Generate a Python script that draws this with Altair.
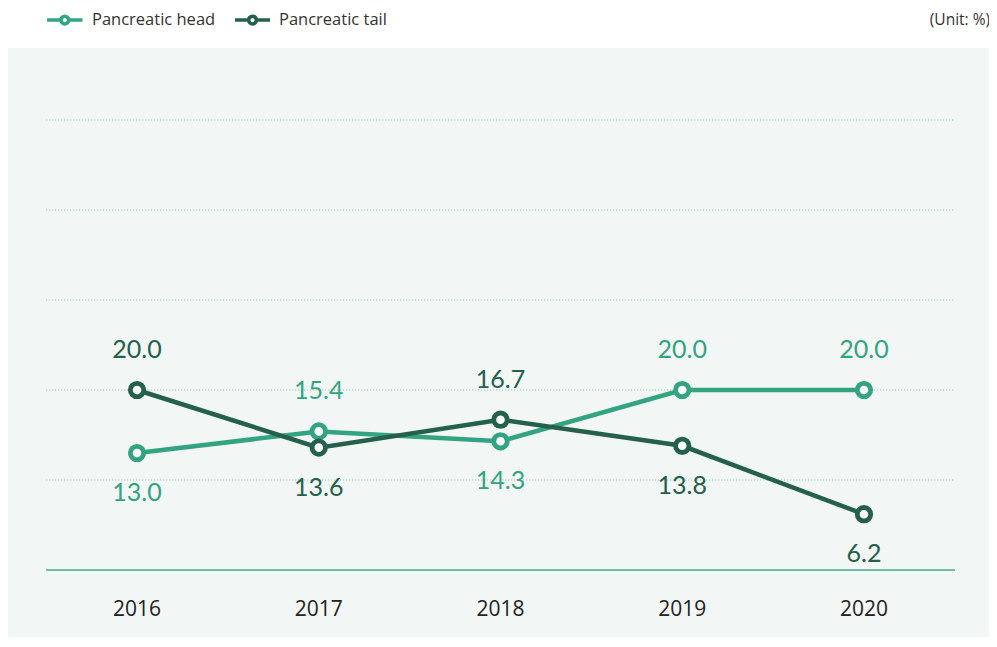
import altair as alt
import pandas as pd

years = [2016, 2017, 2018, 2019, 2020]
head = [13.0, 15.4, 14.3, 20.0, 20.0]
tail = [20.0, 13.6, 16.7, 13.8, 6.2]
series_names = ["Pancreatic head", "Pancreatic tail"]
series_colors = ["#33a481", "#24604b"]
grid_values = [10, 20, 30, 40, 50]
unit_text = "(Unit: %)"

# legend layout (in axis units, placed above the plotting range)
legend_line_start = [2015.505, 2016.539]
legend_line_end = [2015.700, 2016.732]
legend_text_x = [2015.752, 2016.781]
legend_y = 61.1

rows = []
for i, y in enumerate(years):
    h, t = head[i], tail[i]
    rows.append({"year": y, "series": series_names[0], "value": h, "pos": "above" if h > t else "below"})
    rows.append({"year": y, "series": series_names[1], "value": t, "pos": "above" if t >= h else "below"})
df = pd.DataFrame(rows)
df["label"] = df["value"].map(lambda v: f"{v:.1f}")

grid_df = pd.DataFrame({"v": grid_values, "x1": 2015.5, "x2": 2020.5})
base_df = pd.DataFrame({"v": [0], "x1": [2015.5], "x2": [2020.5]})
year_df = pd.DataFrame({"year": years, "yl": -4.44, "label": [str(y) for y in years]})
leg_df = pd.DataFrame({
    "series": series_names,
    "x1": legend_line_start, "x2": legend_line_end,
    "xc": [(a + b) / 2 for a, b in zip(legend_line_start, legend_line_end)],
    "xt": legend_text_x, "y": legend_y,
})
unit_df = pd.DataFrame({"x": [2020.694], "y": [legend_y], "t": [unit_text]})

xs = alt.Scale(domain=[2015.29, 2020.688], nice=False, zero=False)
ys = alt.Scale(domain=[-7.444, 58], nice=False, zero=False)
cs = alt.Scale(domain=series_names, range=series_colors)

X = lambda f: alt.X(f, scale=xs, axis=None)
Y = lambda f: alt.Y(f, scale=ys, axis=None)
C = alt.Color("series:N", scale=cs, legend=None)

grid = alt.Chart(grid_df).mark_rule(color="#86c9b2", strokeWidth=1, strokeDash=[1, 2]).encode(
    x=X("x1:Q"), x2="x2:Q", y=Y("v:Q")
)
baseline = alt.Chart(base_df).mark_rule(color="#3aab8b", strokeWidth=1.5).encode(
    x=X("x1:Q"), x2="x2:Q", y=Y("v:Q")
)
line = alt.Chart(df).mark_line(strokeWidth=4.5).encode(x=X("year:Q"), y=Y("value:Q"), color=C)
pts = alt.Chart(df).mark_point(filled=False, fill="white", fillOpacity=1, size=180, strokeWidth=4.8,
                               opacity=1, shape="circle").encode(x=X("year:Q"), y=Y("value:Q"), color=C)
lab_above = alt.Chart(df).transform_filter(alt.datum.pos == "above").mark_text(
    font="Lato", fontSize=25, dy=-40, baseline="middle"
).encode(x=X("year:Q"), y=Y("value:Q"), text="label:N", color=C)
lab_below = alt.Chart(df).transform_filter(alt.datum.pos == "below").mark_text(
    font="Lato", fontSize=25, dy=40, baseline="middle"
).encode(x=X("year:Q"), y=Y("value:Q"), text="label:N", color=C)
year_labels = alt.Chart(year_df).mark_text(font="Open Sans", fontSize=21, color="#222222", baseline="middle").encode(
    x=X("year:Q"), y=Y("yl:Q"), text="label:N"
)

leg_line = alt.Chart(leg_df).mark_rule(strokeWidth=3.5).encode(x=X("x1:Q"), x2="x2:Q", y=Y("y:Q"), color=C)
leg_pt = alt.Chart(leg_df).mark_point(filled=False, fill="white", fillOpacity=1, size=60, strokeWidth=3.6,
                                      opacity=1, shape="circle").encode(x=X("xc:Q"), y=Y("y:Q"), color=C)
leg_txt = alt.Chart(leg_df).mark_text(font="Open Sans", fontSize=16.5, color="#333333", align="left",
                                      baseline="middle").encode(x=X("xt:Q"), y=Y("y:Q"), text="series:N")
unit = alt.Chart(unit_df).mark_text(font="Open Sans", fontSize=15.5, color="#333333", align="right",
                                    baseline="middle").encode(x=X("x:Q"), y=Y("y:Q"), text="t:N")

chart = alt.layer(grid, baseline, line, pts, lab_above, lab_below, year_labels,
                  leg_line, leg_pt, leg_txt, unit).properties(
    width=981, height=589,
    autosize=alt.AutoSizeParams(type="none"),
    padding={"left": 0, "top": 40, "right": 0, "bottom": 0},
    background="white",
).configure_view(fill="#f2f6f5", stroke=None, clip=False)

chart.save("out.html", embed_options={"renderer": "svg", "actions": False})
